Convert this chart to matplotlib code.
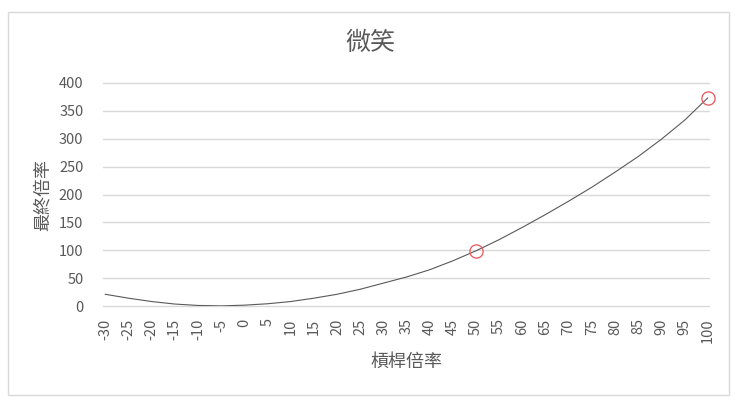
import matplotlib
matplotlib.use("Agg")
import matplotlib.pyplot as plt
from matplotlib.patches import Rectangle

plt.rcParams['font.family'] = ['Noto Sans CJK TC', 'DejaVu Sans']

# data
leverage = [-30, -25, -20, -15, -10, -5, 0, 5, 10, 15, 20, 25, 30, 35, 40, 45,
            50, 55, 60, 65, 70, 75, 80, 85, 90, 95, 100]
final_mult = [21, 14, 8, 3.5, 1, 0.2, 1.5, 4, 8, 14, 21, 30, 41, 52, 65, 81,
              99, 119, 141, 164, 188, 213, 240, 268, 299, 333, 373]
marked_x = [50, 100]
marked_y = [99, 373]
title = "微笑"
xlabel = "槓桿倍率"
ylabel = "最終倍率"
yticks = [0, 50, 100, 150, 200, 250, 300, 350, 400]

W, H = 740, 403
fig = plt.figure(figsize=(W / 100, H / 100), dpi=100)
fig.patch.set_facecolor('white')
fig.patches.append(Rectangle((8 / W, 1 - 395 / H), (729 - 8) / W, (395 - 12) / H,
                             transform=fig.transFigure, fill=False,
                             edgecolor='#D9D9D9', linewidth=1.0))

ax = fig.add_axes([103 / W, 1 - 306 / H, (709 - 103) / W, (306 - 83) / H])
ax.set_xlim(-30.5, 100.3)
ax.set_ylim(0, 400)
for s in ax.spines.values():
    s.set_visible(False)
ax.set_yticks(yticks)
ax.set_yticklabels([str(v) for v in yticks])
ax.set_xticks(leverage)
ax.set_xticklabels([str(v) for v in leverage], rotation=90, va='top')
ax.tick_params(axis='both', length=0, labelsize=10.5, labelcolor='#595959')
ax.tick_params(axis='x', pad=9)
ax.tick_params(axis='y', pad=14)
ax.grid(axis='y', color='#D9D9D9', linewidth=1.0)
ax.grid(axis='x', visible=False)
for gl in ax.get_ygridlines():
    gl.set_clip_on(False)
ax.set_axisbelow(True)

ax.plot(leverage, final_mult, color='#595959', linewidth=0.8, zorder=3)
ax.plot(marked_x, marked_y, linestyle='none', marker='o', markersize=9.5,
        markerfacecolor='none', markeredgecolor='#E8545A', markeredgewidth=0.9,
        zorder=4, clip_on=False)

fig.text(370 / W, 1 - 43 / H, title, ha='center', va='center', fontsize=18,
         color='#595959', fontweight='light')
fig.text(406 / W, 1 - 362 / H, xlabel, ha='center', va='center', fontsize=13,
         color='#595959', fontweight='light')
fig.text(43 / W, 1 - 195 / H, ylabel, ha='center', va='center', fontsize=13,
         color='#595959', rotation=90, fontweight='light')

fig.savefig('out.png', dpi=100, facecolor='white')
